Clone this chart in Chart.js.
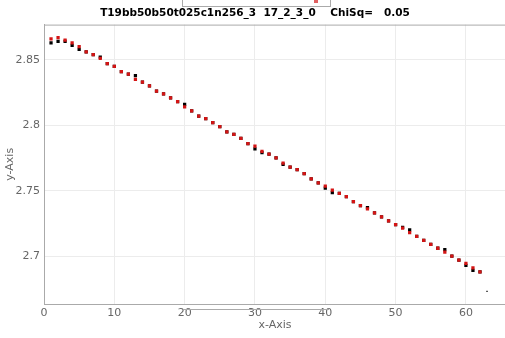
<!DOCTYPE html>
<html>
<head>
<meta charset="utf-8">
<script src="https://cdn.jsdelivr.net/npm/chart.js@4"></script>
<style>
    html, body { margin: 0; padding: 0; background: #fff; }
    #wrap { position: relative; width: 505px; height: 338px; overflow: hidden; }
    #chart { position: absolute; left: 0; top: 0; }
    #topBox { position: absolute; left: 182px; top: -10px; width: 147px; height: 15px; border: 1px solid #aaa; }
    #topMark { position: absolute; left: 314px; top: 0; width: 4px; height: 3px; background: #e06060; }
    #bottomLine { position: absolute; left: 183px; top: 309px; width: 146px; height: 0; border-top: 1px solid #aaa; }
</style>
</head>
<body>
<div id="wrap">
    <canvas id="chart" width="510" height="338"></canvas>
    <div id="topBox"></div>
    <div id="topMark"></div>
    <div id="bottomLine"></div>
</div>
<script>
    // Chart data
    const xValues = [1, 2, 3, 4, 5, 6, 7, 8, 9, 10, 11, 12, 13, 14, 15, 16, 17, 18, 19, 20,
        21, 22, 23, 24, 25, 26, 27, 28, 29, 30, 31, 32, 33, 34, 35, 36, 37, 38, 39, 40,
        41, 42, 43, 44, 45, 46, 47, 48, 49, 50, 51, 52, 53, 54, 55, 56, 57, 58, 59, 60,
        61, 62, 63];

    const blackValues = [2.863, 2.864, 2.864, 2.861, 2.858, 2.856, 2.854, 2.852, 2.847, 2.845,
        2.841, 2.839, 2.838, 2.833, 2.830, 2.826, 2.824, 2.821, 2.818, 2.816,
        2.811, 2.807, 2.805, 2.802, 2.799, 2.795, 2.793, 2.790, 2.786, 2.782,
        2.779, 2.778, 2.775, 2.770, 2.768, 2.766, 2.763, 2.759, 2.756, 2.752,
        2.7485, 2.748, 2.7455, 2.7416, 2.7386, 2.737, 2.733, 2.730, 2.727, 2.724,
        2.722, 2.720, 2.715, 2.712, 2.709, 2.706, 2.705, 2.700, 2.697, 2.693,
        2.689, 2.688, 2.673];

    const redValues = [2.866, 2.867, 2.865, 2.863, 2.860, 2.856, 2.854, 2.851, 2.847, 2.845,
        2.841, 2.839, 2.835, 2.833, 2.830, 2.826, 2.824, 2.821, 2.818, 2.814,
        2.811, 2.807, 2.805, 2.802, 2.799, 2.795, 2.793, 2.790, 2.786, 2.784,
        2.780, 2.778, 2.775, 2.771, 2.768, 2.766, 2.763, 2.759, 2.756, 2.7535,
        2.7505, 2.748, 2.7455, 2.7416, 2.7386, 2.736, 2.733, 2.730, 2.727, 2.724,
        2.7214, 2.718, 2.715, 2.712, 2.709, 2.706, 2.703, 2.700, 2.697, 2.6945,
        2.691, 2.688];

    const xTicks = [0, 10, 20, 30, 40, 50, 60];
    const yTicks = [2.7, 2.75, 2.8, 2.85];

    const chartTitle = 'T19bb50b50t025c1n256_3  17_2_3_0    ChiSq=   0.05';

    function toPoints(values) {
        return values.map(function(v, i) { return { x: xValues[i], y: v }; });
    }

    const tickFont = { family: 'DejaVu Sans', size: 11 };
    const gridColor = '#ececec';

    new Chart(document.getElementById('chart').getContext('2d'), {
        type: 'scatter',
        data: {
            datasets: [
                {
                    label: 'fit',
                    data: toPoints(redValues),
                    pointStyle: 'rect',
                    pointRadius: 2.3,
                    pointBorderWidth: 0,
                    backgroundColor: '#d41414',
                    borderColor: '#d41414',
                    order: 1
                },
                {
                    label: 'data',
                    data: toPoints(blackValues),
                    pointStyle: 'rect',
                    // last point is drawn as a tiny dot in the reference
                    pointRadius: function(ctx) { return ctx.dataIndex === blackValues.length - 1 ? 0.9 : 2.3; },
                    pointBorderWidth: 0,
                    backgroundColor: '#000',
                    borderColor: '#000',
                    order: 2
                }
            ]
        },
        options: {
            responsive: false,
            animation: false,
            layout: { padding: { left: 0, right: 0, top: 0, bottom: 0 } },
            plugins: {
                legend: { display: false },
                tooltip: { enabled: false },
                title: {
                    display: true,
                    text: chartTitle,
                    color: '#000',
                    font: { family: 'DejaVu Sans', size: 10.5, weight: 'bold' },
                    padding: { top: 7, bottom: 5 }
                }
            },
            scales: {
                x: {
                    type: 'linear',
                    min: 0,
                    max: 65.7,
                    afterBuildTicks: function(scale) {
                        scale.ticks = xTicks.map(function(v) { return { value: v }; });
                    },
                    afterFit: function(scale) { scale.height = 34; },
                    grid: { color: gridColor, drawTicks: false },
                    border: { color: '#aaa' },
                    ticks: { color: '#666', font: tickFont, padding: 3 },
                    title: {
                        display: true,
                        text: 'x-Axis',
                        color: '#666',
                        font: tickFont,
                        padding: { top: 0, bottom: 6 }
                    }
                },
                y: {
                    min: 2.6634,
                    max: 2.8769,
                    afterBuildTicks: function(scale) {
                        scale.ticks = yTicks.map(function(v) { return { value: v }; });
                    },
                    afterFit: function(scale) { scale.width = 44; },
                    grid: { color: gridColor, drawTicks: false },
                    border: { color: '#aaa' },
                    ticks: {
                        color: '#666',
                        font: tickFont,
                        padding: 4,
                        callback: function(v) { return String(+v.toFixed(2)); }
                    },
                    title: {
                        display: true,
                        text: 'y-Axis',
                        color: '#666',
                        font: tickFont,
                        padding: { top: 4, bottom: 0 }
                    }
                }
            }
        },
        plugins: [{
            // top frame line of the plot area
            id: 'topFrame',
            afterDraw: function(chart) {
                const a = chart.chartArea;
                const ctx = chart.ctx;
                ctx.save();
                ctx.strokeStyle = '#aaa';
                ctx.lineWidth = 1;
                ctx.beginPath();
                ctx.moveTo(a.left, a.top + 0.5);
                ctx.lineTo(a.right, a.top + 0.5);
                ctx.stroke();
                ctx.restore();
            }
        }]
    });
</script>
</body>
</html>
